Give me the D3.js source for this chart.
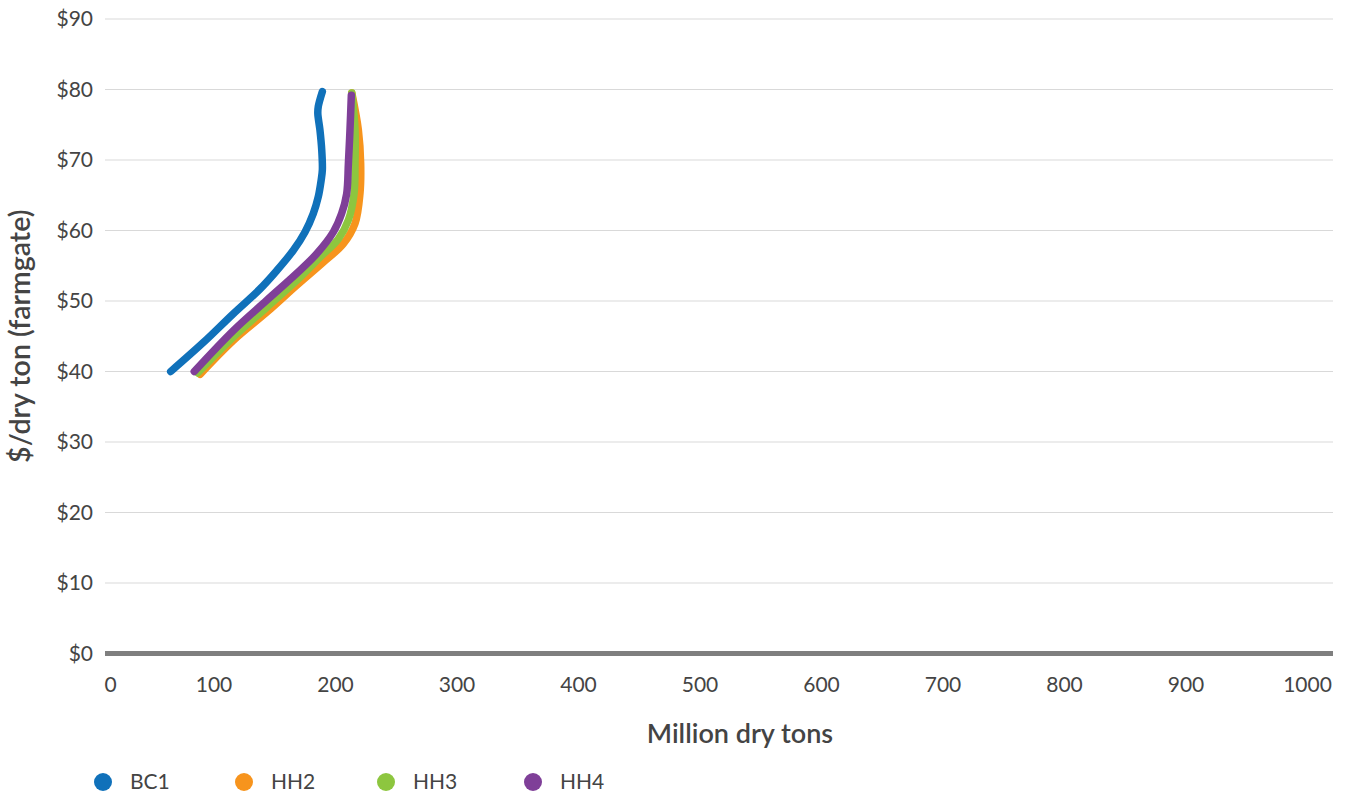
<!DOCTYPE html>
<html><head><meta charset="utf-8">
<script src="https://cdn.jsdelivr.net/npm/d3@7"></script>
<style>
html,body{margin:0;padding:0;background:#fff;}
svg{display:block;font-family:Lato,"Open Sans",sans-serif;}
</style></head>
<body>
<svg id="c" width="1346" height="797"></svg>
<script>
// ---- data ----
const seriesNames = ["BC1", "HH2", "HH3", "HH4"];
const seriesColors = ["#1071ba", "#f7941d", "#8dc63f", "#7f3f98"];
// [million dry tons, $/dry ton]
const bc1 = [[177,79.7],[173.7,77.6],[173.3,76.6],[175,74.3],[176.5,71.4],[177,68.6],[176,67.1],[173.7,64.8],[169.6,62.4],[162.9,59.8],[153.4,57.2],[139.8,54.3],[126.2,51.7],[104.5,48.2],[80,44.1],[53.5,40.0]];
const hh2 = [[201,79.5],[206.3,74.3],[208.2,69.5],[207.6,65.2],[203.6,61.0],[194,58.1],[177.8,55.5],[156,52.2],[131.7,48.4],[104.5,44.4],[77.4,39.6]];
const hh3 = [[201,79.5],[203.6,74.3],[203.6,69.5],[202.8,65.2],[198.2,61.5],[190,58.8],[175,56.2],[156,52.9],[131.7,49.1],[104.5,44.9],[75.5,39.8]];
const hh4 = [[200.6,79.2],[199.5,74.3],[198.2,69.5],[196.8,65.2],[192.7,62.4],[186,59.8],[172.4,56.7],[156,53.9],[131.7,50.1],[104.5,45.8],[72.7,40.0]];
const seriesData = [bc1, hh2, hh3, hh4];
const xTicks = [0,100,200,300,400,500,600,700,800,900,1000];
const yTicks = [0,10,20,30,40,50,60,70,80,90];
const xTitle = "Million dry tons";
const yTitle = "$/dry ton (farmgate)";

// ---- layout ----
const svg = d3.select("#c");
const pLeft = 105, pRight = 1333, pTop = 19, pBottom = 653.5;
const x = d3.scaleLinear().domain([0,1000]).range([pLeft,pRight]);
const xLab = d3.scaleLinear().domain([0,1000]).range([92,1307]);
const y = d3.scaleLinear().domain([0,90]).range([pBottom,pTop]);
const textColor = "#444";

// gridlines
svg.append("g").selectAll("line").data(yTicks.filter(d=>d>0)).join("line")
  .attr("x1",pLeft).attr("x2",pRight)
  .attr("y1",d=>y(d)).attr("y2",d=>y(d))
  .attr("stroke","#d9d9d9").attr("stroke-width",1.2);

// zero axis line
svg.append("line").attr("x1",pLeft).attr("x2",pRight)
  .attr("y1",y(0)).attr("y2",y(0))
  .attr("stroke","#7f7f7f").attr("stroke-width",5);

// y axis labels
const yAxis = d3.axisLeft(y).tickValues(yTicks).tickSize(0).tickPadding(0).tickFormat(d=>"$"+d);
const gy = svg.append("g").attr("transform",`translate(93,0)`).call(yAxis);
gy.select(".domain").remove();
gy.selectAll("text").attr("fill",textColor).style("font-size","21px").style("font-family","Lato,sans-serif");

// x axis labels
const xAxis = d3.axisBottom(xLab).tickValues(xTicks).tickSize(0).tickPadding(0).tickFormat(d=>d);
const gx = svg.append("g").attr("transform",`translate(0,677)`).call(xAxis);
gx.select(".domain").remove();
gx.selectAll("text").attr("fill",textColor).style("font-size","21px").style("font-family","Lato,sans-serif")
  .attr("dx",d=>d===0?18:0);

// titles
svg.append("text").attr("x",740).attr("y",743).attr("text-anchor","middle")
  .attr("fill",textColor).style("font-size","27px").style("font-weight","600").text(xTitle);
svg.append("text").attr("transform",`translate(30,${(pTop+pBottom)/2}) rotate(-90)`)
  .attr("text-anchor","middle").attr("fill",textColor)
  .style("font-size","28.5px").style("font-weight","600").text(yTitle);

// lines
const line = d3.line().x(d=>x(d[0])).y(d=>y(d[1])).curve(d3.curveCatmullRom.alpha(0.5));
const order = [1,2,3,0];
svg.append("g").selectAll("path").data(order).join("path")
  .attr("d",i=>line(seriesData[i]))
  .attr("fill","none").attr("stroke",i=>seriesColors[i])
  .attr("stroke-width",7.5).attr("stroke-linecap","round").attr("stroke-linejoin","round");

// legend
const legX = [103,244,386,533];
const lg = svg.append("g").selectAll("g").data(seriesNames).join("g")
  .attr("transform",(d,i)=>`translate(${legX[i]},782)`);
lg.append("circle").attr("r",9).attr("fill",(d,i)=>seriesColors[i]);
lg.append("text").attr("x",27).attr("y",7).attr("fill",textColor)
  .style("font-size","21px").text(d=>d);
</script>
</body></html>
